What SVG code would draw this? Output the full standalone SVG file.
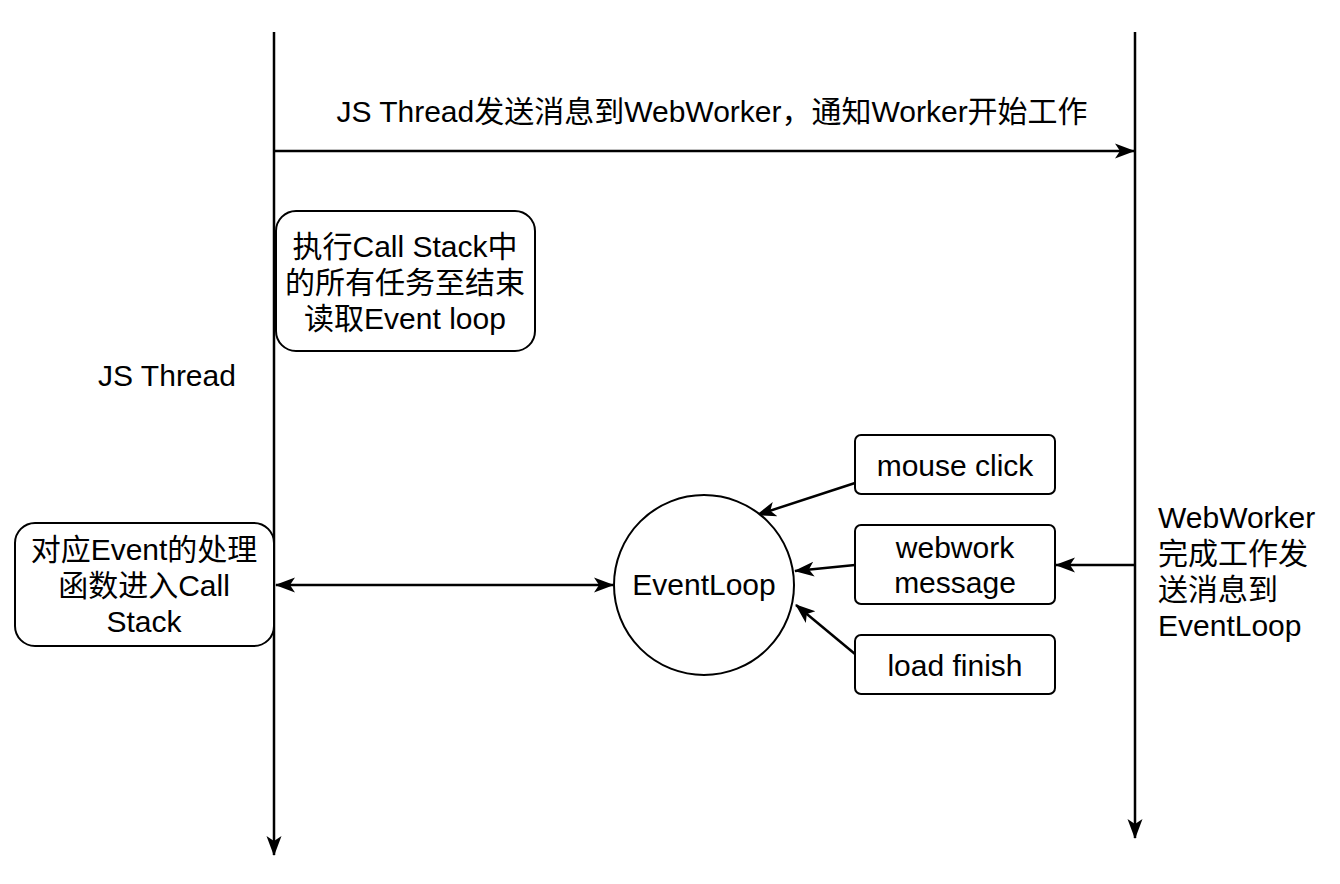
<svg xmlns="http://www.w3.org/2000/svg" width="1340" height="884" viewBox="0 0 1340 884">
<style>
text{font-family:"Liberation Sans","Noto Sans CJK SC",sans-serif;font-size:30px;fill:#000}
.c{text-anchor:middle}
.box{fill:#fff;stroke:#000;stroke-width:2}
.ln{stroke:#000;stroke-width:2.5;fill:none}
</style>
<defs>
<marker id="ah" viewBox="0 0 20 20" refX="19" refY="10" markerWidth="20" markerHeight="20" markerUnits="userSpaceOnUse" orient="auto-start-reverse">
<path d="M0,2.5 L20,10 L0,17.5 L5,10 Z" fill="#000"/>
</marker>
</defs>
<rect width="1340" height="884" fill="#fff"/>
<g id="connectors">
<line class="ln" x1="274" y1="32" x2="274" y2="855" marker-end="url(#ah)"/>
<line class="ln" x1="1135" y1="32" x2="1135" y2="838" marker-end="url(#ah)"/>
<line class="ln" x1="274" y1="151" x2="1134" y2="151" marker-end="url(#ah)"/>
<line class="ln" x1="276" y1="585" x2="613" y2="585" marker-start="url(#ah)" marker-end="url(#ah)"/>
<line class="ln" x1="855" y1="483" x2="757" y2="515" marker-end="url(#ah)"/>
<line class="ln" x1="855" y1="565" x2="795" y2="571" marker-end="url(#ah)"/>
<line class="ln" x1="855" y1="654" x2="796" y2="605" marker-end="url(#ah)"/>
<line class="ln" x1="1135" y1="565" x2="1056" y2="565" marker-end="url(#ah)"/>
</g>
<g id="label-top"><text class="c" x="712" y="122">JS Thread发送消息到WebWorker，通知Worker开始工作</text></g>
<g id="label-jsthread"><text class="c" x="167" y="386">JS Thread</text></g>
<g id="label-webworker">
<text x="1158" y="528">WebWorker</text>
<text x="1158" y="564">完成工作发</text>
<text x="1158" y="600">送消息到</text>
<text x="1158" y="636">EventLoop</text>
</g>
<g id="box-callstack">
<rect class="box" x="276" y="211" width="259" height="140" rx="20"/>
<text class="c" x="405" y="257">执行Call Stack中</text>
<text class="c" x="405" y="293">的所有任务至结束</text>
<text class="c" x="405" y="329">读取Event loop</text>
</g>
<g id="box-handler">
<rect class="box" x="15" y="523" width="259" height="123" rx="20"/>
<text class="c" x="144" y="560">对应Event的处理</text>
<text class="c" x="144" y="596">函数进入Call</text>
<text class="c" x="144" y="632">Stack</text>
</g>
<g id="eventloop">
<circle class="box" cx="704" cy="585" r="90"/>
<text class="c" x="704" y="595">EventLoop</text>
</g>
<g id="box-mouse">
<rect class="box" x="855" y="435" width="200" height="59" rx="6"/>
<text class="c" x="955" y="476">mouse click</text>
</g>
<g id="box-webwork">
<rect class="box" x="855" y="525" width="200" height="79" rx="6"/>
<text class="c" x="955" y="558">webwork</text>
<text class="c" x="955" y="593">message</text>
</g>
<g id="box-load">
<rect class="box" x="855" y="635" width="200" height="59" rx="6"/>
<text class="c" x="955" y="676">load finish</text>
</g>
</svg>
